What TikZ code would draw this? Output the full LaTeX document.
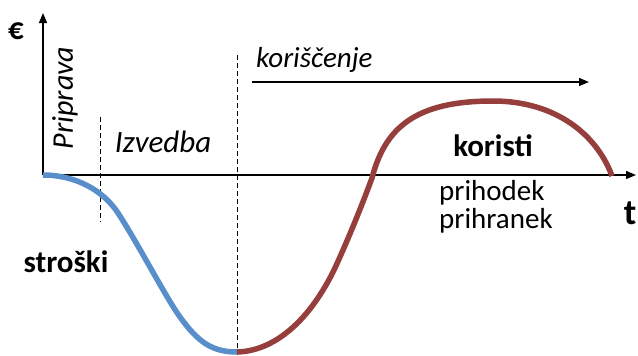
\documentclass[tikz,border=0pt]{standalone}
\usepackage{fontspec}
\setmainfont{Carlito}
\usepackage{tikz}
\usetikzlibrary{arrows.meta, positioning}

\definecolor{costblue}{RGB}{88,143,202}
\definecolor{benefitred}{RGB}{150,62,60}

\begin{document}
\begin{tikzpicture}[
    x=1pt, y=-1pt,
    axis/.style={-{Triangle[length=10pt, width=8pt]}, line width=1.3pt},
    phaseline/.style={dash pattern=on 5pt off 3pt, line width=1pt},
    curve/.style={line width=5.5pt, line cap=butt},
    label/.style={font=\fontsize{29}{31}\selectfont, inner sep=0pt},
    boldlabel/.style={font=\fontsize{31}{33}\selectfont\bfseries, inner sep=0pt}
  ]
  \useasboundingbox (0,0) rectangle (638,356);

  % axes
  \coordinate (origin) at (43,175);
  \coordinate (ytip) at (43,13);
  \coordinate (xtip) at (636,175);
  \draw[axis] (origin) -- (ytip);
  \draw[axis] (origin) -- (xtip);
  \node[boldlabel] (euro) at (16,31) {€};
  \node[boldlabel, font=\fontsize{36}{38}\selectfont\bfseries] (tlabel) at (630,213) {t};

  % phase borders
  \coordinate (prepTop) at (100,117);
  \coordinate (prepBot) at (100,222);
  \coordinate (useTop) at (237,55);
  \coordinate (useBot) at (237,355);
  \draw[phaseline] (prepTop) -- (prepBot);
  \draw[phaseline] (useTop) -- (useBot);

  \node[label, font=\fontsize{30}{32}\selectfont, rotate=90] (prep) at (65,98) {\itshape Priprava};
  \node[label, font=\fontsize{31}{33}\selectfont] (build) at (163,142) {\itshape Izvedba};
  \node[label, anchor=west] (use) at (256,60) {\itshape koriščenje};
  \coordinate (useStart) at (252,82);
  \coordinate (useEnd) at (589,82);
  \draw[axis] (useStart) -- (useEnd);

  % curves
  \coordinate (lowpoint) at (237,352);
  \draw[curve, costblue] (origin) .. controls (75,175) and (103,190) .. (118,213)
    .. controls (140,247) and (165,296) .. (180,317)
    .. controls (198,342) and (212,352) .. (lowpoint);
  \draw[curve, benefitred] (lowpoint) .. controls (275,351) and (310,320) .. (335,268)
    .. controls (350,235) and (362,205) .. (372,178)
    .. controls (385,128) and (415,101) .. (493,101)
    .. controls (556,101) and (597,135) .. (612,176);

  \node[boldlabel] (costs) at (66,262) {stroški};
  \node[boldlabel] (benefits) at (493,146) {koristi};
  \node[label, anchor=west] (income) at (439,193) {prihodek};
  \node[label, below=3pt of income.south west, anchor=north west] (savings) {prihranek};
\end{tikzpicture}
\end{document}
